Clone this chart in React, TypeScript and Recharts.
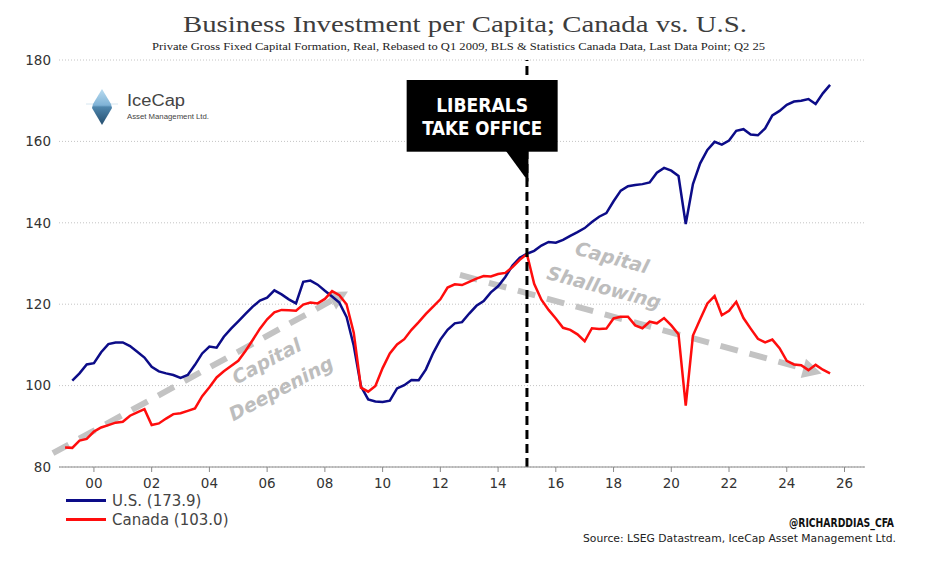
import React from "react";
import {
  ComposedChart,
  Line,
  XAxis,
  YAxis,
  CartesianGrid,
  ReferenceLine,
  ReferenceDot,
  Legend,
} from "recharts";

// quarterly points, plotted at quarter end: first one is Q4 98 (1999.0)
const FIRST_QUARTER = 1999.0;
const QUARTER = 0.25;

const usValues: (number | null)[] = [
  null, 101.2, 103.0, 105.2, 105.5, 108.2, 110.2, 110.6, 110.6, 109.7,
  108.3, 106.9, 104.6, 103.5, 103.0, 102.6, 101.9, 102.6, 105.1, 107.9,
  109.6, 109.3, 112.0, 114.0, 115.8, 117.6, 119.4, 120.9, 121.6, 123.4,
  122.4, 121.2, 120.2, 125.5, 125.8, 124.8, 123.3, 121.9, 120.4, 116.9,
  109.8, 99.8, 96.6, 96.1, 96.0, 96.3, 99.3, 100.1, 101.4, 101.3,
  104.0, 108.0, 111.3, 113.7, 115.3, 115.6, 117.7, 119.6, 120.8, 122.9,
  124.4, 126.7, 129.5, 131.4, 132.4, 133.1, 134.4, 135.3, 135.1, 135.8,
  136.8, 137.7, 138.7, 140.2, 141.5, 142.4, 145.3, 147.9, 149.0, 149.3,
  149.5, 149.9, 152.3, 153.5, 152.8, 151.5, 139.7, 149.5, 154.6, 157.9,
  159.9, 159.2, 160.2, 162.6, 163.0, 161.7, 161.5, 163.2, 166.4, 167.5,
  169.0, 169.8, 170.0, 170.4, 169.2, 171.8, 173.9,
];

const canadaValues: number[] = [
  84.8, 84.7, 86.5, 86.9, 88.7, 89.7, 90.3, 90.9, 91.1, 92.6,
  93.4, 94.2, 90.3, 90.7, 91.9, 93.0, 93.2, 93.8, 94.4, 97.4,
  99.6, 102.0, 103.5, 104.8, 106.1, 108.5, 111.2, 114.0, 116.3, 118.0,
  118.6, 118.5, 118.4, 119.9, 120.4, 120.2, 121.3, 123.2, 122.2, 120.0,
  113.0, 99.5, 98.5, 99.9, 104.3, 107.9, 110.1, 111.4, 113.7, 115.6,
  117.6, 119.4, 121.2, 124.1, 124.9, 124.7, 125.5, 126.3, 126.9, 126.8,
  127.4, 127.7, 129.1, 130.9, 132.3, 125.0, 121.1, 118.6, 116.5, 114.2,
  113.7, 112.6, 110.9, 114.1, 113.9, 114.0, 116.5, 116.9, 116.9, 114.8,
  114.1, 115.7, 115.3, 116.6, 114.8, 112.6, 95.1, 112.3, 116.3, 120.2,
  122.0, 117.3, 118.4, 120.6, 116.6, 114.0, 111.5, 110.6, 111.3, 109.2,
  106.1, 105.2, 105.0, 103.8, 105.1, 103.9, 103.0,
];

const yearTicks = [2000, 2002, 2004, 2006, 2008, 2010, 2012, 2014, 2016, 2018, 2020, 2022, 2024, 2026];
const valueTicks = [80, 100, 120, 140, 160, 180];

const LIBERALS_IN = 2015;
const deepeningArrow = [{ x: 1998.58, y: 83.4 }, { x: 2008.8, y: 123.1 }];
const shallowingArrow = [{ x: 2012.68, y: 127.2 }, { x: 2025.21, y: 103.0 }];

const US_COLOR = "#0c0c88";
const CA_COLOR = "#ff0d0d";
const ARROW = "#c3c3c3";
const TICK_FONT = { fill: "#333", fontSize: 13.5, fontFamily: "DejaVu Sans, sans-serif" };

const data = canadaValues.map((ca, i) => ({
  t: FIRST_QUARTER + i * QUARTER,
  us: usValues[i],
  ca,
}));

const usLast = usValues[usValues.length - 1] as number;
const caLast = canadaValues[canadaValues.length - 1];

function DashedArrow(props: any) {
  const { x1, y1, x2, y2 } = props;
  const dx = x2 - x1;
  const dy = y2 - y1;
  const len = Math.hypot(dx, dy) || 1;
  const ux = dx / len;
  const uy = dy / len;
  const head = 19;
  const half = 10;
  const bx = x2 - ux * head;
  const by = y2 - uy * head;
  return (
    <g>
      <line x1={x1} y1={y1} x2={bx} y2={by} stroke={ARROW} strokeWidth={6} strokeDasharray="18 12" />
      <polygon
        points={`${x2},${y2} ${bx - uy * half},${by + ux * half} ${bx + uy * half},${by - ux * half}`}
        fill={ARROW}
      />
    </g>
  );
}

const slantedLabel = (lines: string[], angle: number) => (props: any) => {
  const vb = props.viewBox || {};
  const cx = vb.x + (vb.width || 0) / 2;
  const cy = vb.y + (vb.height || 0) / 2;
  const style = {
    fontFamily: "DejaVu Sans, sans-serif",
    fontSize: 19,
    fontWeight: 700,
    fontStyle: "italic",
    fill: "#bdbdbd",
  } as const;
  return (
    <g transform={`translate(${cx},${cy}) rotate(${angle})`}>
      <text x={0} y={-10} textAnchor="middle" style={style}>{lines[0]}</text>
      <text x={0} y={21} textAnchor="middle" style={style}>{lines[1]}</text>
    </g>
  );
};

function calloutLabel(props: any) {
  const vb = props.viewBox || {};
  const x = vb.x;
  const top = vb.y;
  const font = {
    fontFamily: "'Liberation Sans Narrow', 'DejaVu Sans Condensed', sans-serif",
    fontSize: 20,
    fontWeight: 700,
    fill: "#fff",
  } as const;
  const cx = x - 44.8;
  return (
    <g>
      <rect x={x - 120.3} y={top + 20} width={151} height={71.7} fill="#000" />
      <polygon points={`${x - 21},${top + 91} ${x + 1.5},${top + 91} ${x + 1.5},${top + 121.7}`} fill="#000" />
      <text x={cx} y={top + 52} textAnchor="middle" textLength={92} lengthAdjust="spacingAndGlyphs" style={font}>
        LIBERALS
      </text>
      <text x={cx} y={top + 75} textAnchor="middle" textLength={120} lengthAdjust="spacingAndGlyphs" style={font}>
        TAKE OFFICE
      </text>
    </g>
  );
}

function LegendBox({ payload }: any) {
  return (
    <div style={{ display: "flex", flexDirection: "column" }}>
      {(payload || []).map((p: any) => (
        <div key={p.value} style={{ display: "flex", alignItems: "center", height: 19 }}>
          <span style={{ display: "inline-block", width: 40, height: 3, background: p.color, marginRight: 6 }} />
          <span style={{ fontFamily: "DejaVu Sans, sans-serif", fontSize: 15, color: "#444" }}>{p.value}</span>
        </div>
      ))}
    </div>
  );
}

export default function App() {
  return (
    <div style={{ position: "absolute", left: 0, top: 0, width: 926, height: 562, background: "#fff" }}>
      <ComposedChart width={926} height={562} data={data} margin={{ top: 60, right: 16, bottom: 65, left: 14 }}>
        <CartesianGrid yAxisId="left" vertical={false} stroke="#c4c4c4" strokeDasharray="1 2" />
        <XAxis
          dataKey="t"
          type="number"
          domain={[1998.79, 2026.71]}
          ticks={yearTicks}
          tickFormatter={(v: number) => String(v % 100).padStart(2, "0")}
          tick={TICK_FONT}
          stroke="#8a8a8a"
          tickSize={5}
          tickMargin={6}
          height={30}
          allowDataOverflow
        />
        <YAxis yAxisId="left" domain={[80, 180]} ticks={valueTicks} axisLine={false} tickLine={false} tick={TICK_FONT} width={45} />
        <YAxis
          yAxisId="right"
          orientation="right"
          domain={[80, 180]}
          ticks={valueTicks}
          axisLine={false}
          tickLine={false}
          tick={{ ...TICK_FONT, textAnchor: "start" }}
          width={45}
        />
        <Legend
          layout="horizontal"
          verticalAlign="middle"
          align="center"
          itemSorter={(item: any) => (item.dataKey === "us" ? 0 : 1)}
          content={<LegendBox />}
          wrapperStyle={{ left: 66, top: 491, bottom: "auto", width: 200 }}
        />
        <ReferenceLine
          yAxisId="left"
          segment={deepeningArrow}
          ifOverflow="visible"
          shape={(p: any) => <DashedArrow {...p} />}
        />
        <ReferenceLine
          yAxisId="left"
          segment={shallowingArrow}
          ifOverflow="visible"
          shape={(p: any) => <DashedArrow {...p} />}
        />
        <ReferenceDot
          yAxisId="left"
          x={2006.25}
          y={102.4}
          r={1}
          fill="none"
          stroke="none"
          label={{ content: slantedLabel(["Capital", "Deepening"], -28) }}
        />
        <ReferenceDot
          yAxisId="left"
          x={2017.8}
          y={127.5}
          r={1}
          fill="none"
          stroke="none"
          label={{ content: slantedLabel(["Capital", "Shallowing"], 15) }}
        />
        <Line
          yAxisId="left"
          type="linear"
          dataKey="us"
          name={`U.S. (${usLast.toFixed(1)})`}
          stroke={US_COLOR}
          strokeWidth={2.5}
          dot={false}
          isAnimationActive={false}
        />
        <Line
          yAxisId="left"
          type="linear"
          dataKey="ca"
          name={`Canada (${caLast.toFixed(1)})`}
          stroke={CA_COLOR}
          strokeWidth={2.5}
          dot={false}
          isAnimationActive={false}
        />
        <ReferenceLine
          yAxisId="left"
          x={LIBERALS_IN}
          stroke="#000"
          strokeWidth={3}
          strokeDasharray="9 5"
          label={{ content: calloutLabel }}
        />
      </ComposedChart>

      <svg width={926} height={562} style={{ position: "absolute", left: 0, top: 0, pointerEvents: "none" }}>
        <defs>
          <linearGradient id="berg" x1="0" y1="0" x2="0" y2="1">
            <stop offset="0" stopColor="#b9dcf0" />
            <stop offset="0.45" stopColor="#7fb2d6" />
            <stop offset="0.5" stopColor="#4f86ad" />
            <stop offset="1" stopColor="#244e6e" />
          </linearGradient>
        </defs>
        <text
          x={465}
          y={32.3}
          textAnchor="middle"
          textLength={564}
          lengthAdjust="spacingAndGlyphs"
          style={{ fontFamily: "'Liberation Serif', serif", fontSize: 23, fill: "#3d3d3d" }}
        >
          Business Investment per Capita; Canada vs. U.S.
        </text>
        <text
          x={458.5}
          y={50}
          textAnchor="middle"
          textLength={613}
          lengthAdjust="spacingAndGlyphs"
          style={{ fontFamily: "'Liberation Serif', serif", fontSize: 10.5, fill: "#222" }}
        >
          Private Gross Fixed Capital Formation, Real, Rebased to Q1 2009, BLS &amp; Statistics Canada Data, Last Data Point; Q2 25
        </text>

        <line x1={86} y1={104} x2={118} y2={104} stroke="#d6e6f0" strokeWidth={1} />
        <polygon points="102,89 111,104 112,108 102,125 92,108 93,104" fill="url(#berg)" />
        <text
          x={127}
          y={106}
          textLength={58}
          lengthAdjust="spacingAndGlyphs"
          style={{ fontFamily: "'Liberation Sans', sans-serif", fontSize: 16, fill: "#444" }}
        >
          IceCap
        </text>
        <text
          x={127}
          y={119}
          textLength={82}
          lengthAdjust="spacingAndGlyphs"
          style={{ fontFamily: "'Liberation Sans', sans-serif", fontSize: 7, fill: "#444" }}
        >
          Asset Management Ltd.
        </text>

        <text
          x={894}
          y={526.7}
          textAnchor="end"
          textLength={105}
          lengthAdjust="spacingAndGlyphs"
          style={{
            fontFamily: "'Liberation Sans Narrow', 'DejaVu Sans Condensed', sans-serif",
            fontSize: 11.5,
            fontWeight: 700,
            fill: "#111",
          }}
        >
          @RICHARDDIAS_CFA
        </text>
        <text
          x={896}
          y={541.5}
          textAnchor="end"
          textLength={313}
          lengthAdjust="spacingAndGlyphs"
          style={{ fontFamily: "DejaVu Sans, sans-serif", fontSize: 10, fill: "#222" }}
        >
          Source: LSEG Datastream, IceCap Asset Management Ltd.
        </text>
      </svg>
    </div>
  );
}
